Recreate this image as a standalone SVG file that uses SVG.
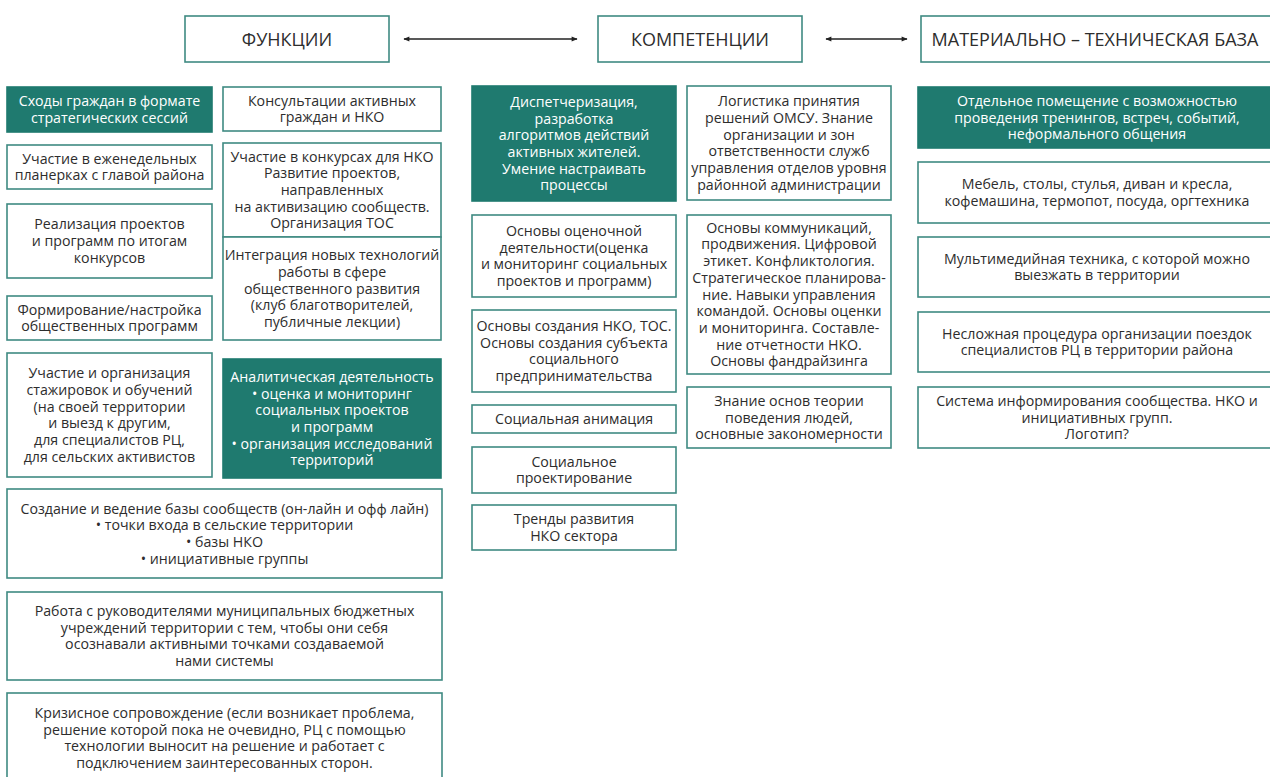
<svg xmlns="http://www.w3.org/2000/svg" width="1270" height="777" viewBox="0 0 1270 777">
<style>
.box{fill:#ffffff;stroke:#3f8a82;stroke-width:1.6}
.fill{fill:#1f7a6f;stroke:#1f7a6f;stroke-width:1.6}
.t{font-family:"Open Sans","Noto Sans","Liberation Sans",sans-serif;font-size:14.2px;fill:#2d2d2d;text-anchor:middle}
.w{fill:#ffffff}
.h{font-family:"Open Sans","Noto Sans","Liberation Sans",sans-serif;font-size:18px;fill:#2d2d2d;text-anchor:middle}
.conn{stroke:#222;stroke-width:1.3;fill:none}
</style>
<defs>
<marker id="ah" viewBox="0 0 10 10" refX="9" refY="5" markerWidth="7" markerHeight="6" orient="auto-start-reverse" markerUnits="userSpaceOnUse">
<path d="M0,1 L10,5 L0,9 Z" fill="#222"/>
</marker>
</defs>
<rect x="0" y="0" width="1270" height="777" fill="#ffffff"/>

<g id="connectors">
<line class="conn" x1="404" y1="39" x2="577" y2="39" marker-start="url(#ah)" marker-end="url(#ah)"/>
<line class="conn" x1="826" y1="39" x2="907" y2="39" marker-start="url(#ah)" marker-end="url(#ah)"/>
</g>

<g id="h-functions"><rect class="box" x="185" y="16" width="204" height="46"/><text class="h" x="287" y="45.5">ФУНКЦИИ</text></g>
<g id="h-competencies"><rect class="box" x="598" y="16" width="204" height="46"/><text class="h" x="700" y="45.5">КОМПЕТЕНЦИИ</text></g>
<g id="h-base"><rect class="box" x="921" y="16" width="370" height="46"/><text class="h" x="1095" y="45.5">МАТЕРИАЛЬНО – ТЕХНИЧЕСКАЯ БАЗА</text></g>

<g id="a1"><rect class="fill" x="7" y="87" width="205" height="45"/><text class="t w" y="106.2"><tspan x="109.5">Сходы граждан в формате</tspan><tspan x="109.5" dy="16.7">стратегических сессий</tspan></text></g>
<g id="a2"><rect class="box" x="7" y="145" width="205" height="44"/><text class="t" y="163.7"><tspan x="109.5">Участие в еженедельных</tspan><tspan x="109.5" dy="16.7">планерках с главой района</tspan></text></g>
<g id="a3"><rect class="box" x="7" y="204" width="205" height="74"/><text class="t" y="229.3"><tspan x="109.5">Реализация проектов</tspan><tspan x="109.5" dy="16.7">и программ по итогам</tspan><tspan x="109.5" dy="16.7">конкурсов</tspan></text></g>
<g id="a4"><rect class="box" x="7" y="296" width="205" height="44"/><text class="t" y="314.7"><tspan x="109.5">Формирование/настройка</tspan><tspan x="109.5" dy="16.7">общественных программ</tspan></text></g>
<g id="a5"><rect class="box" x="7" y="353" width="205" height="124"/><text class="t" y="378.3"><tspan x="109.5">Участие и организация</tspan><tspan x="109.5" dy="16.7">стажировок и обучений</tspan><tspan x="109.5" dy="16.7">(на своей территории</tspan><tspan x="109.5" dy="16.7">и выезд к другим,</tspan><tspan x="109.5" dy="16.7">для специалистов РЦ,</tspan><tspan x="109.5" dy="16.7">для сельских активистов</tspan></text></g>

<g id="b1"><rect class="box" x="223" y="87" width="218" height="44"/><text class="t" y="105.7"><tspan x="332">Консультации активных</tspan><tspan x="332" dy="16.7">граждан и НКО</tspan></text></g>
<g id="b2"><rect class="box" x="223" y="143" width="218" height="94"/><text class="t" y="161.6"><tspan x="332">Участие в конкурсах для НКО</tspan><tspan x="332" dy="16.7">Развитие проектов,</tspan><tspan x="332" dy="16.7">направленных</tspan><tspan x="332" dy="16.7">на активизацию сообществ.</tspan><tspan x="332" dy="16.7">Организация ТОС</tspan></text></g>
<g id="b3"><rect class="box" x="223" y="237" width="218" height="103"/><text class="t" y="260.1"><tspan x="332">Интеграция новых технологий</tspan><tspan x="332" dy="16.7">работы в сфере</tspan><tspan x="332" dy="16.7">общественного развития</tspan><tspan x="332" dy="16.7">(клуб благотворителей,</tspan><tspan x="332" dy="16.7">публичные лекции)</tspan></text></g>
<g id="b4"><rect class="fill" x="223" y="359" width="218" height="119"/><text class="t w" y="381.8"><tspan x="332">Аналитическая деятельность</tspan><tspan x="332" dy="16.7">• оценка и мониторинг</tspan><tspan x="332" dy="16.7">социальных проектов</tspan><tspan x="332" dy="16.7">и программ</tspan><tspan x="332" dy="16.7">• организация исследований</tspan><tspan x="332" dy="16.7">территорий</tspan></text></g>

<g id="w1"><rect class="box" x="7" y="489" width="435" height="89"/><text class="t" y="513.5"><tspan x="224.5">Создание и ведение базы сообществ (он-лайн и офф лайн)</tspan><tspan x="224.5" dy="16.7">• точки входа в сельские территории</tspan><tspan x="224.5" dy="16.7">• базы НКО</tspan><tspan x="224.5" dy="16.7">• инициативные группы</tspan></text></g>
<g id="w2"><rect class="box" x="7" y="592" width="435" height="88"/><text class="t" y="616"><tspan x="224.5">Работа с руководителями муниципальных бюджетных</tspan><tspan x="224.5" dy="16.7">учреждений территории с тем, чтобы они себя</tspan><tspan x="224.5" dy="16.7">осознавали активными точками создаваемой</tspan><tspan x="224.5" dy="16.7">нами системы</tspan></text></g>
<g id="w3"><rect class="box" x="7" y="693" width="435" height="95"/><text class="t" y="718"><tspan x="224.5">Кризисное сопровождение (если возникает проблема,</tspan><tspan x="224.5" dy="16.7">решение которой пока не очевидно, РЦ с помощью</tspan><tspan x="224.5" dy="16.7">технологии выносит на решение и работает с</tspan><tspan x="224.5" dy="16.7">подключением заинтересованных сторон.</tspan></text></g>

<g id="c1"><rect class="fill" x="472" y="86" width="204" height="115"/><text class="t w" y="106.8"><tspan x="574">Диспетчеризация,</tspan><tspan x="574" dy="16.7">разработка</tspan><tspan x="574" dy="16.7">алгоритмов действий</tspan><tspan x="574" dy="16.7">активных жителей.</tspan><tspan x="574" dy="16.7">Умение настраивать</tspan><tspan x="574" dy="16.7">процессы</tspan></text></g>
<g id="c2"><rect class="box" x="472" y="215" width="204" height="82"/><text class="t" y="236"><tspan x="574">Основы оценочной</tspan><tspan x="574" dy="16.7">деятельности(оценка</tspan><tspan x="574" dy="16.7">и мониторинг социальных</tspan><tspan x="574" dy="16.7">проектов и программ)</tspan></text></g>
<g id="c3"><rect class="box" x="472" y="310" width="204" height="82"/><text class="t" y="331"><tspan x="574">Основы создания НКО, ТОС.</tspan><tspan x="574" dy="16.7">Основы создания субъекта</tspan><tspan x="574" dy="16.7">социального</tspan><tspan x="574" dy="16.7">предпринимательства</tspan></text></g>
<g id="c4"><rect class="box" x="472" y="405" width="204" height="28"/><text class="t" x="574" y="424">Социальная анимация</text></g>
<g id="c5"><rect class="box" x="472" y="447" width="204" height="46"/><text class="t" y="466.7"><tspan x="574">Социальное</tspan><tspan x="574" dy="16.7">проектирование</tspan></text></g>
<g id="c6"><rect class="box" x="472" y="505" width="204" height="45"/><text class="t" y="524.2"><tspan x="574">Тренды развития</tspan><tspan x="574" dy="16.7">НКО сектора</tspan></text></g>

<g id="d1"><rect class="box" x="687" y="86" width="204" height="114"/><text class="t" y="106.3"><tspan x="789">Логистика принятия</tspan><tspan x="789" dy="16.7">решений ОМСУ. Знание</tspan><tspan x="789" dy="16.7">организации и зон</tspan><tspan x="789" dy="16.7">ответственности служб</tspan><tspan x="789" dy="16.7">управления отделов уровня</tspan><tspan x="789" dy="16.7">районной администрации</tspan></text></g>
<g id="d2"><rect class="box" x="687" y="215" width="204" height="159"/><text class="t" y="232.7"><tspan x="789">Основы коммуникаций,</tspan><tspan x="789" dy="16.7">продвижения. Цифровой</tspan><tspan x="789" dy="16.7">этикет. Конфликтология.</tspan><tspan x="789" dy="16.7">Стратегическое планирова-</tspan><tspan x="789" dy="16.7">ние. Навыки управления</tspan><tspan x="789" dy="16.7">командой. Основы оценки</tspan><tspan x="789" dy="16.7">и мониторинга. Составле-</tspan><tspan x="789" dy="16.7">ние отчетности НКО.</tspan><tspan x="789" dy="16.7">Основы фандрайзинга</tspan></text></g>
<g id="d3"><rect class="box" x="687" y="387" width="204" height="61"/><text class="t" y="405.8"><tspan x="789">Знание основ теории</tspan><tspan x="789" dy="16.7">поведения людей,</tspan><tspan x="789" dy="16.7">основные закономерности</tspan></text></g>

<g id="e1"><rect class="fill" x="918" y="87" width="370" height="61"/><text class="t w" y="105.8"><tspan x="1097">Отдельное помещение с возможностью</tspan><tspan x="1097" dy="16.7">проведения тренингов, встреч, событий,</tspan><tspan x="1097" dy="16.7">неформального общения</tspan></text></g>
<g id="e2"><rect class="box" x="918" y="162" width="370" height="61"/><text class="t" y="189.2"><tspan x="1097">Мебель, столы, стулья, диван и кресла,</tspan><tspan x="1097" dy="16.7">кофемашина, термопот, посуда, оргтехника</tspan></text></g>
<g id="e3"><rect class="box" x="918" y="237" width="370" height="60"/><text class="t" y="263.7"><tspan x="1097">Мультимедийная техника, с которой можно</tspan><tspan x="1097" dy="16.7">выезжать в территории</tspan></text></g>
<g id="e4"><rect class="box" x="918" y="312" width="370" height="60"/><text class="t" y="338.7"><tspan x="1097">Несложная процедура организации поездок</tspan><tspan x="1097" dy="16.7">специалистов РЦ в территории района</tspan></text></g>
<g id="e5"><rect class="box" x="918" y="387" width="370" height="61"/><text class="t" y="405.8"><tspan x="1097">Система информирования сообщества. НКО и</tspan><tspan x="1097" dy="16.7">инициативных групп.</tspan><tspan x="1097" dy="16.7">Логотип?</tspan></text></g>
</svg>
